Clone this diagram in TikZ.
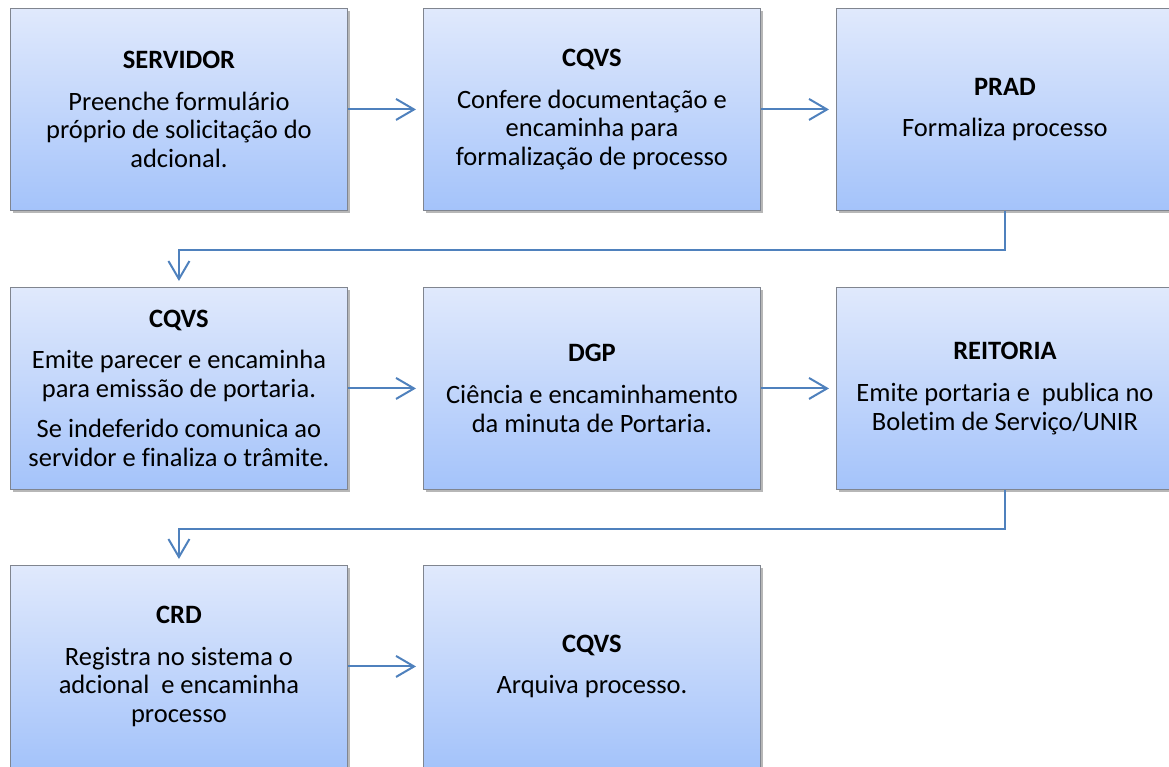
\documentclass[tikz,border=0pt]{standalone}
\usepackage{fontspec}
\setmainfont{Carlito}[Ligatures={NoCommon}]
\usetikzlibrary{arrows.meta,shadows}
\definecolor{boxtop}{RGB}{224,233,252}
\definecolor{boxbot}{RGB}{164,195,250}
\definecolor{boxline}{RGB}{128,133,143}
\definecolor{arrowblue}{RGB}{79,129,189}
\begin{document}
\begin{tikzpicture}[x=1pt,y=-1pt,
  stepbox/.style={draw=boxline, line width=0.9pt, top color=boxtop, bottom color=boxbot,
    minimum width=337pt, minimum height=202pt, anchor=north west, align=center,
    inner sep=0pt, font=\fontsize{26.5}{28.8}\selectfont,
    drop shadow={shadow xshift=3pt, shadow yshift=-3pt, opacity=0.4, fill=black!70}},
  flow/.style={draw=arrowblue, line width=2pt, -{Straight Barb[length=18pt,width=21pt,line width=2pt]}}]
\useasboundingbox (0,0) rectangle (1169,767);

\node[stepbox] (b1) at (10,8) {\textbf{SERVIDOR}\\[13pt]Preenche formulário\\próprio de solicitação do\\adcional.};
\node[stepbox] (b2) at (423,8) {\textbf{CQVS}\\[13pt]Confere documentação e\\encaminha para\\formalização de processo};
\node[stepbox] (b3) at (836,8) {\textbf{PRAD}\\[13pt]Formaliza processo};

\node[stepbox] (b4) at (10,287) {\textbf{CQVS}\\[12pt]Emite parecer e encaminha\\para emissão de portaria.\\[12pt]Se indeferido comunica ao\\servidor e finaliza o trâmite.};
\node[stepbox] (b5) at (423,287) {\textbf{DGP}\\[13pt]Ciência e encaminhamento\\da minuta de Portaria.};
\node[stepbox] (b6) at (836,287) {\textbf{REITORIA}\\[13pt]Emite portaria e \ publica no\\Boletim de Serviço/UNIR};

\node[stepbox] (b7) at (10,565) {\textbf{CRD}\\[13pt]Registra no sistema o\\adcional \ e encaminha\\processo};
\node[stepbox] (b8) at (423,565) {\textbf{CQVS}\\[13pt]Arquiva processo.};

\draw[flow] (b1.east) -- ([xshift=-7pt]b2.west);
\draw[flow] (b2.east) -- ([xshift=-7pt]b3.west);
\draw[flow] (b4.east) -- ([xshift=-7pt]b5.west);
\draw[flow] (b5.east) -- ([xshift=-7pt]b6.west);
\draw[flow] (b7.east) -- ([xshift=-7pt]b8.west);

\draw[flow] (b3.south) -- ++(0,39) -| ([yshift=6pt]b4.north);
\draw[flow] (b6.south) -- ++(0,39) -| ([yshift=6pt]b7.north);
\end{tikzpicture}
\end{document}
